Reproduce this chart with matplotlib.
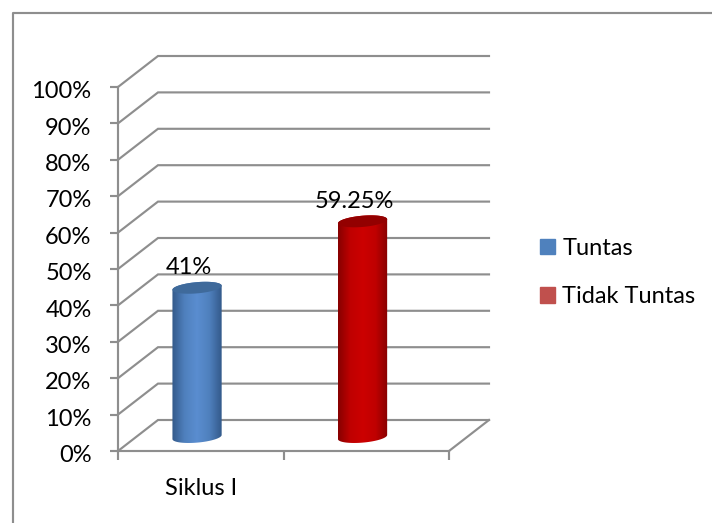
import numpy as np
import matplotlib
matplotlib.use('Agg')
import matplotlib.pyplot as plt
from matplotlib.colors import LinearSegmentedColormap
from matplotlib.lines import Line2D
from matplotlib.patches import PathPatch, Patch
from matplotlib.path import Path
from matplotlib.transforms import ScaledTranslation

categories = ['Siklus I', '']
series_names = ['Tuntas', 'Tidak Tuntas']
series_values = [41, 59.25]
value_labels = ['41%', '59.25%']
y_ticks = list(range(0, 101, 10))
y_labels = [f'{v}%' for v in y_ticks]

W, H = 712, 523
plt.rcParams['font.family'] = ['Lato', 'DejaVu Sans']
fig = plt.figure(figsize=(W/100, H/100), dpi=100, facecolor='white')
L, R, T, B = 118, 449, 87, 451
ax = fig.add_axes([L/W, 1-B/H, (R-L)/W, (B-T)/H])
ax.set_xlim(-0.5, 1.5)
ax.set_ylim(0, 100)
ax.patch.set_alpha(0)
GREY = '#8e8e8e'
LW = 1.55
FS = 17
xpx = (R-L)/2
ypx = (B-T)/100
dx, dy = 40/xpx, 31/ypx

for s in ('top', 'right'):
    ax.spines[s].set_visible(False)
for s in ('left', 'bottom'):
    ax.spines[s].set_color(GREY)
    ax.spines[s].set_linewidth(LW)

ax.set_yticks(y_ticks, y_labels)
ax.set_xticks([-0.5, 0.5, 1.5], ['', '', ''])
ax.set_xticks([0, 1], categories, minor=True)
ax.tick_params(axis='y', which='major', length=6, width=LW, color=GREY,
               labelsize=FS, labelcolor='black', pad=13)
ax.tick_params(axis='x', which='major', length=6.2, width=LW, color=GREY)
ax.tick_params(axis='x', which='minor', length=0, labelsize=FS, pad=19.5)
shift = ScaledTranslation(0, -2/72, fig.dpi_scale_trans)
for t in ax.get_yticklabels():
    t.set_transform(t.get_transform() + shift)

# walls and floor
xmin, xmax = ax.get_xlim()
for v in y_ticks:
    ax.plot([xmin, xmin+dx, xmax+dx], [v, v+dy, v+dy], color=GREY, lw=LW,
            clip_on=False, zorder=1, solid_joinstyle='miter')
ax.plot([xmax, xmax+dx], [0, dy], color=GREY, lw=LW, clip_on=False, zorder=1)

# cylinders
def cylinder(x, v, cmap, top_color):
    hw = 24.7/xpx
    ox, oy = -3.7/xpx, 14/ypx
    rx, ry = 24.7, 5.6
    tilt = np.deg2rad(5)
    def ell(t, xc, yc):
        ex = rx*np.cos(t)*np.cos(tilt) - ry*np.sin(t)*np.sin(tilt)
        ey = rx*np.cos(t)*np.sin(tilt) + ry*np.sin(t)*np.cos(tilt)
        return xc + ex/xpx, yc + ey/ypx
    xc = x + ox
    t1 = np.linspace(0, np.pi, 60)
    t2 = np.linspace(np.pi, 2*np.pi, 60)
    tx, ty = ell(t1, xc, v + oy)
    bx, by = ell(t2, xc, oy)
    body = np.column_stack([np.r_[tx, bx], np.r_[ty, by]])
    patch = PathPatch(Path(np.vstack([body, body[:1]])), fc='none', ec='none',
                      transform=ax.transData)
    ax.add_patch(patch)
    grad = np.abs(np.linspace(-1, 1, 200))[None, :]
    im = ax.imshow(grad, extent=[xc-hw, xc+hw, 0, v+2*oy], cmap=cmap, vmin=0, vmax=1,
                   aspect='auto', zorder=3, interpolation='bilinear')
    im.set_clip_path(patch)
    ex, ey = ell(np.linspace(0, 2*np.pi, 120), xc, v + oy)
    ax.fill(ex, ey, color=top_color, lw=0, zorder=4, clip_on=False)

blue = LinearSegmentedColormap.from_list('b', ['#5a8dd0', '#4f80bd', '#33598a'])
red = LinearSegmentedColormap.from_list('r', ['#cc0000', '#c00000', '#870000'])
for i, (v, cm, tc, lab) in enumerate(zip(series_values, [blue, red], ['#3f6a9b', '#930000'], value_labels)):
    cylinder(i, v, cm, tc)
    ax.annotate(lab, (i, v), xytext=(-12*0.72, 34*0.72), textcoords='offset points',
                ha='center', va='center', fontsize=FS, color='black', zorder=5,
                annotation_clip=False)
ax.set_xlim(-0.5, 1.5)
ax.set_ylim(0, 100)

handles = [Patch(color='#4f81bd'), Patch(color='#c0504d')]
fig.legend(handles, series_names, loc='center left', bbox_to_anchor=(540/W, 1-272.5/H),
           frameon=False, fontsize=FS, handlelength=0.64, handleheight=0.64,
           handletextpad=0.3, labelspacing=1.17, borderpad=0, borderaxespad=0)

# outer frame: top and left edges only
fig.add_artist(Line2D([12.5/W, 12.5/W, 1.0], [0, 1-12.5/H, 1-12.5/H],
                      transform=fig.transFigure, color=GREY, lw=1.55))
fig.savefig('out.png', dpi=100)
